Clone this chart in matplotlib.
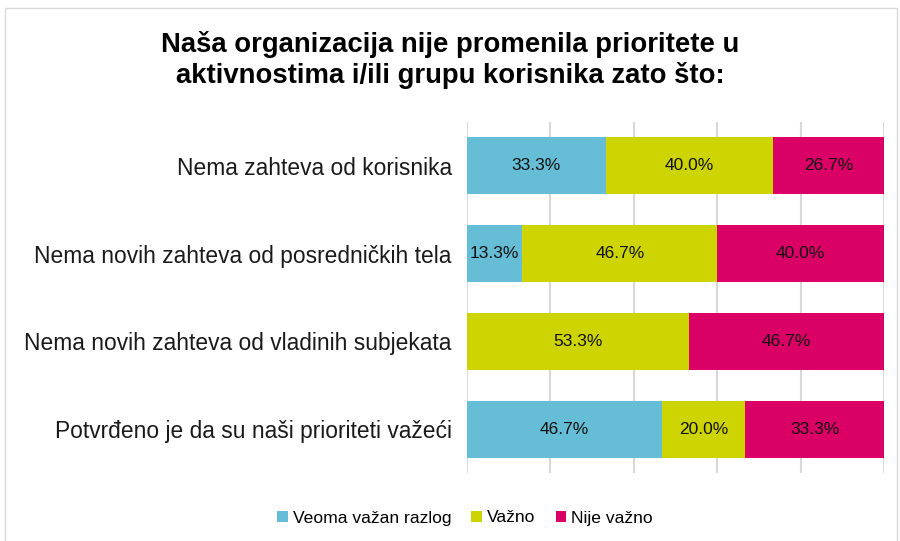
import matplotlib
matplotlib.use('Agg')
from matplotlib import pyplot as plt
from matplotlib.patches import Rectangle

plt.rcParams['font.family'] = ['Liberation Sans', 'DejaVu Sans']

categories = ['Nema zahteva od korisnika',
              'Nema novih zahteva od posredničkih tela',
              'Nema novih zahteva od vladinih subjekata',
              'Potvrđeno je da su naši prioriteti važeći']
veoma = [33.3, 13.3, 0.0, 46.7]
vazno = [40.0, 46.7, 53.3, 20.0]
nije = [26.7, 40.0, 46.7, 33.3]
series_names = ['Veoma važan razlog', 'Važno', 'Nije važno']
colors = ['#65bdd6', '#cdd400', '#db0066']

fig = plt.figure(figsize=(9, 5.41), dpi=100)
ax = fig.add_axes([467/900, 1-473/541, (884-467)/900, (473-122)/541])

y = range(len(categories))
left = [0]*len(categories)
for vals, name, col in zip([veoma, vazno, nije], series_names, colors):
    bars = ax.barh(y, vals, left=left, height=0.65, color=col, label=name, zorder=3)
    for b, v in zip(bars, vals):
        if v > 0:
            ax.text(b.get_x()+b.get_width()/2, b.get_y()+b.get_height()/2, f'{v:.1f}%',
                    ha='center', va='center', fontsize=12.5, color='#111111', zorder=4)
    left = [l+v for l, v in zip(left, vals)]

ax.set_xlim(0, 100)
ax.set_ylim(3.5, -0.5)
ax.set_xticks([0, 20, 40, 60, 80, 100])
ax.set_xticklabels([])
ax.tick_params(axis='x', length=0)
ax.tick_params(axis='y', length=0, pad=11)
ax.set_yticks(list(y))
ax.set_yticklabels(categories, fontsize=16.4, color='#1a1a1a')
ax.grid(axis='x', color='#d9d9d9', linewidth=1.5, zorder=0)
for s in ax.spines.values():
    s.set_visible(False)

fig.text(0.5, 1-60/541, 'Naša organizacija nije promenila prioritete u\naktivnostima i/ili grupu korisnika zato što:',
         ha='center', va='center', fontsize=19.8, fontweight='bold', linespacing=1.15)

ax.legend(loc='center', bbox_to_anchor=(465/900, 1-518/541), bbox_transform=fig.transFigure,
          ncol=3, frameon=False, fontsize=12.6, handlelength=0.6, handleheight=0.6,
          handletextpad=0.3, columnspacing=1.15)

fig.patches.append(Rectangle((5/900, -0.02), 892/900, 1-8/541+0.02, transform=fig.transFigure,
                             fill=False, edgecolor='#d9d9d9', linewidth=1))

fig.savefig('out.png', dpi=100)
